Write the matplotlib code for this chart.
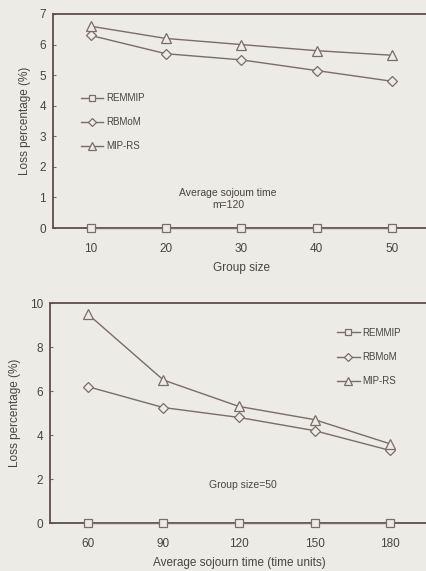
import matplotlib.pyplot as plt

plt.rcParams['font.family'] = ['Liberation Sans', 'DejaVu Sans']

# data - top panel (group size)
group_size = [10, 20, 30, 40, 50]
top_remmip = [0, 0, 0, 0, 0]
top_rbmom = [6.3, 5.7, 5.5, 5.15, 4.8]
top_miprs = [6.6, 6.2, 6.0, 5.8, 5.65]

# data - bottom panel (average sojourn time)
sojourn = [60, 90, 120, 150, 180]
bot_remmip = [0, 0, 0, 0, 0]
bot_rbmom = [6.2, 5.25, 4.8, 4.2, 3.3]
bot_miprs = [9.5, 6.5, 5.3, 4.7, 3.6]

labels = ["REMMIP", "RBMoM", "MIP-RS"]

paper = "#ecebe6"
line_c = "#7a6c66"
spine_c = "#5e4f4a"
text_c = "#4a4440"

fig = plt.figure(figsize=(4.26, 5.71), dpi=100)
fig.patch.set_facecolor(paper)

ax1 = fig.add_axes([0.1244, 0.6007, 0.884, 0.3748])
ax2 = fig.add_axes([0.1174, 0.084, 0.887, 0.3853])

markers = ["s", "D", "^"]
msizes = [5.5, 4.8, 6.8]


def draw(ax, x, series, xlim, ylim, yticks, xlabel, note, note_xy, leg_loc):
    ax.set_facecolor(paper)
    for ys, m, ms, lab in zip(series, markers, msizes, labels):
        ax.plot(x, ys, color=line_c, lw=1.0, marker=m, ms=ms,
                mfc=paper, mec=line_c, mew=0.9, label=lab, clip_on=False, zorder=3)
    ax.set_xlim(*xlim)
    ax.set_ylim(*ylim)
    ax.set_xticks(x)
    ax.set_yticks(yticks)
    ax.tick_params(axis="both", labelsize=8.5, colors=text_c, length=2.5,
                   direction="in", color=line_c)
    ax.tick_params(axis="x", pad=11)
    ax.tick_params(axis="y", pad=5)
    for s in ax.spines.values():
        s.set_color(spine_c)
        s.set_linewidth(1.3)
    ax.set_xlabel(xlabel, fontsize=8.5, color=text_c, labelpad=5)
    ax.set_ylabel("Loss percentage (%)", fontsize=8.5, color=text_c, labelpad=6)
    ax.text(note_xy[0], note_xy[1], note, transform=ax.transAxes, ha="center",
            va="center", fontsize=7.5, color=text_c, linespacing=1.3)
    leg = ax.legend(loc=leg_loc[0], bbox_to_anchor=leg_loc[1], frameon=False,
                    fontsize=7, labelspacing=1.45, handlelength=2.3,
                    handletextpad=0.3, markerscale=0.85, borderaxespad=0)
    for t in leg.get_texts():
        t.set_color(text_c)


draw(ax1, group_size, [top_remmip, top_rbmom, top_miprs], (5, 55), (0, 7),
     range(0, 8), "Group size", "Average sojoum time\nm=120", (0.465, 0.135),
     ("center left", (0.063, 0.495)))

draw(ax2, sojourn, [bot_remmip, bot_rbmom, bot_miprs], (45, 195), (0, 10),
     range(0, 11, 2), "Average sojourn time (time units)", "Group size=50",
     (0.51, 0.175), ("upper left", (0.75, 0.905)))

fig.savefig("out.png", dpi=100, facecolor=paper)
